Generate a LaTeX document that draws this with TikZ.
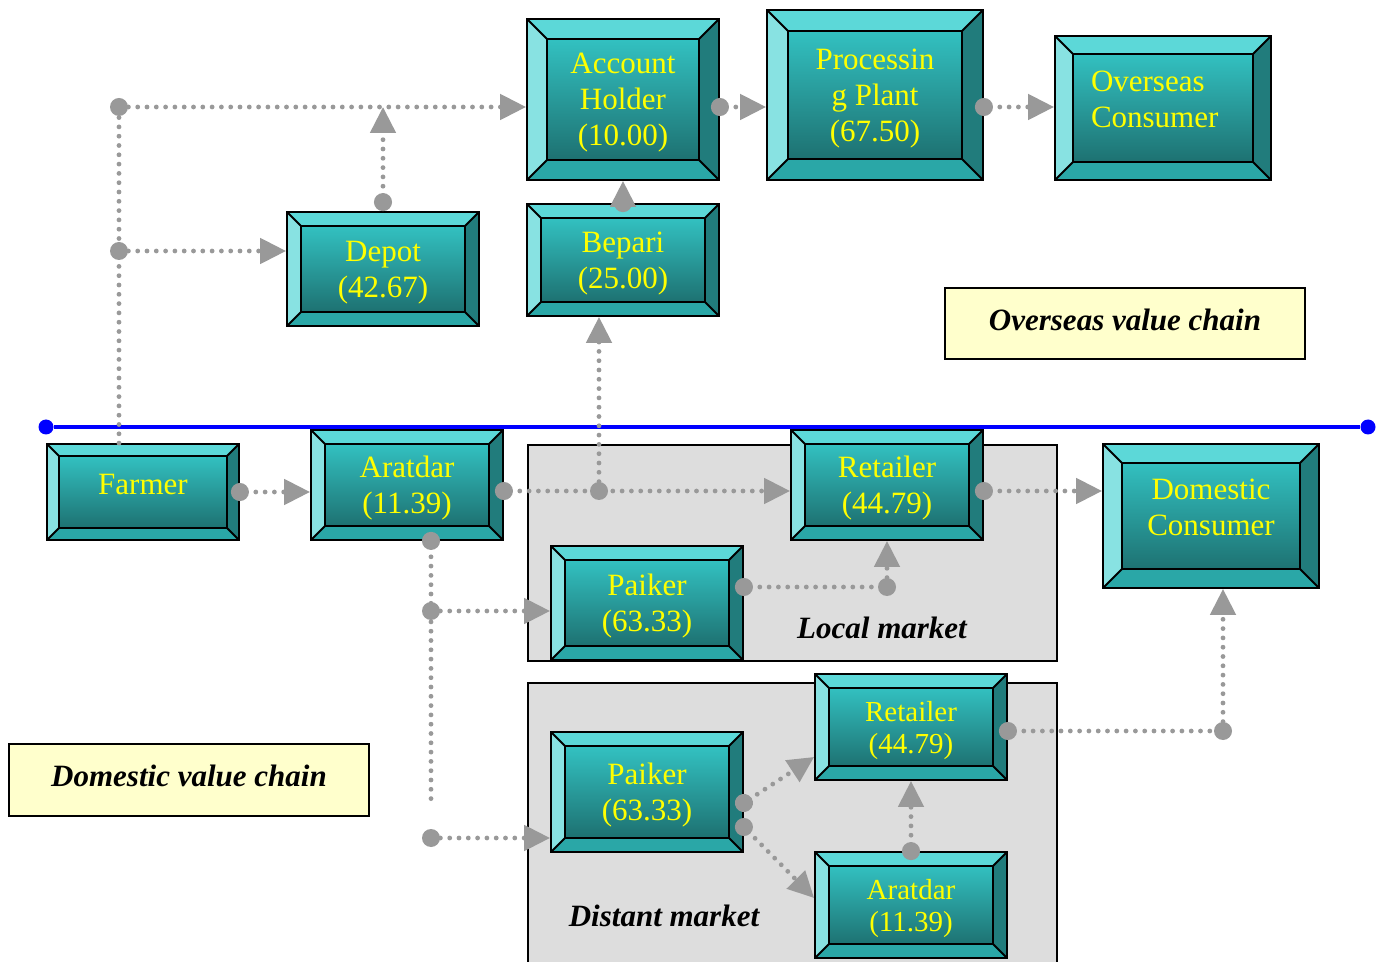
\documentclass[tikz,border=0pt]{standalone}
\usepackage{fontspec}
\setmainfont{Liberation Serif}
\usetikzlibrary{arrows.meta}

\definecolor{bvtop}{HTML}{5CD8D8}
\definecolor{bvleft}{HTML}{88E2E2}
\definecolor{bvright}{HTML}{217C7C}
\definecolor{bvbot}{HTML}{2AA7A7}
\definecolor{innertop}{HTML}{36CECE}
\definecolor{innerbot}{HTML}{1A6464}
\definecolor{stagetext}{HTML}{FFFF00}
\definecolor{flowgray}{HTML}{999999}
\definecolor{panelgray}{HTML}{DDDDDD}
\definecolor{chainfill}{HTML}{FFFFCC}

\newcommand\stagefont{\fontsize{15.5}{18}\selectfont}
\newcommand\smallstage{\fontsize{14.5}{16}\selectfont}

% the four bevel faces of a stage box
\newcommand\bevelfaces{%
  \path (path picture bounding box.north west) coordinate (o1)
        (path picture bounding box.north east) coordinate (o2)
        (path picture bounding box.south east) coordinate (o3)
        (path picture bounding box.south west) coordinate (o4);
  \path (o1) ++(\bevw,-\bevw) coordinate (i1)
        (o2) ++(-\bevw,-\bevw) coordinate (i2)
        (o3) ++(-\bevw,\bevw) coordinate (i3)
        (o4) ++(\bevw,\bevw) coordinate (i4);
  \fill[bvtop] (o1) -- (o2) -- (i2) -- (i1) -- cycle;
  \fill[bvright] (o2) -- (o3) -- (i3) -- (i2) -- cycle;
  \fill[bvbot] (o3) -- (o4) -- (i4) -- (i3) -- cycle;
  \fill[bvleft] (o4) -- (o1) -- (i1) -- (i4) -- cycle;
  \draw[black, line width=0.9pt] (i1) rectangle (i3)
        (o1) -- (i1) (o2) -- (i2) (o3) -- (i3) (o4) -- (i4);
}

\tikzset{
  bev/.store in=\bevw, bev=7pt,
  boxsize/.style 2 args={minimum width=#1*0.5pt, minimum height=#2*0.5pt},
  stage/.style={rectangle, draw=black, line width=0.9pt,
    top color=innertop, bottom color=innerbot, text=stagetext,
    align=center, font=\stagefont, inner sep=0pt, text depth=-1.2pt,
    path picture={\bevelfaces}},
  panel/.style={draw=black, line width=0.8pt, fill=panelgray},
  chain/.style={draw=black, line width=0.9pt, fill=chainfill,
    font=\stagefont\bfseries\itshape, text depth=4pt},
  tag/.style={font=\stagefont\bfseries\itshape, inner sep=0pt},
  bdot/.style={circle, fill=blue, minimum size=7.5pt, inner sep=0pt},
  divider/.style={draw=blue, line width=2.2pt},
  wire/.style={draw=flowgray, line width=2.4pt, line cap=round,
    dash pattern=on 0pt off 4.65pt},
  flow/.style={wire, -{Triangle[length=13pt,width=12.5pt]}},
  srcflow/.style={wire, {Circle[length=9pt]}-{Triangle[length=13pt,width=12.5pt]},
    shorten <=-4.5pt},
  srcwire/.style={wire, {Circle[length=9pt]}-, shorten <=-4.5pt},
  jdot/.style={circle, fill=flowgray, minimum size=9pt, inner sep=0pt}
}

\begin{document}
\begin{tikzpicture}[x=0.5pt,y=-0.5pt]
\clip (0,0) rectangle (1382,962);
\fill[white] (0,0) rectangle (1382,962);

% market panels
\draw[panel] (528,445) rectangle (1057,661);
\draw[panel] (528,683) rectangle (1057,990);

% line between the two chains
\node[bdot] (bl) at (46,427) {};
\node[bdot] (br) at (1368,427) {};
\draw[divider] (bl) -- (br);

% overseas chain
\node[stage, boxsize={192}{161}, bev=10pt, text depth=-4.5pt] (acct) at (623,99.5) {Account\\Holder\\(10.00)};
\node[stage, boxsize={216}{170}, bev=10.5pt] (proc) at (875,95) {Processin\\g Plant\\(67.50)};
\node[stage, boxsize={216}{144}, bev=9pt, align=left, text width=72pt, text depth=27pt] (ovcons) at (1163,108) {Overseas\\Consumer};
\node[stage, boxsize={192}{114}, bev=7pt, text depth=-4pt] (depot) at (383,269) {Depot\\(42.67)};
\node[stage, boxsize={192}{112}, bev=7pt, text depth=-4.5pt] (bepari) at (623,260) {Bepari\\(25.00)};

% domestic chain
\node[stage, boxsize={192}{96}, bev=6pt, text depth=8pt] (farmer) at (143,492) {Farmer};
\node[stage, boxsize={192}{110}, bev=7pt] (aratdar) at (407,485) {Aratdar\\(11.39)};
\node[stage, boxsize={192}{110}, bev=7pt, text depth=-2.5pt] (retl) at (887,485) {Retailer\\(44.79)};
\node[stage, boxsize={216}{144}, bev=9.5pt, text depth=8.5pt] (domcons) at (1211,516) {Domestic\\Consumer};
\node[stage, boxsize={192}{114}, bev=7pt, text depth=-2pt] (paikl) at (647,603) {Paiker\\(63.33)};
\node[stage, boxsize={192}{120}, bev=7pt] (paikd) at (647,792) {Paiker\\(63.33)};
\node[stage, boxsize={192}{106}, bev=7pt, font=\smallstage] (retd) at (911,727) {Retailer\\(44.79)};
\node[stage, boxsize={192}{106}, bev=7pt, font=\smallstage] (aratd) at (911,905) {Aratdar\\(11.39)};

% labels
\node[chain, boxsize={360}{71}] (ovchain) at (1125,323.5) {Overseas value chain};
\node[chain, boxsize={360}{72}] (domchain) at (189,780) {Domestic value chain};
\node[tag] (localmkt) at (882,628) {Local market};
\node[tag] (distmkt) at (664,916) {Distant market};

% farmer to the overseas buyers
\draw[wire] ([xshift=-12pt]farmer.north) -- (119,107);
\node[jdot] (j6) at (119,251) {};
\node[jdot] (j7) at (119,107) {};
\draw[flow] (j6) -- (j6 -| depot.west);
\draw[flow] (j7) -- (j7 -| acct.west);
\draw[srcflow, shorten <=0pt] (depot.north) -- (depot.north |- j7);
\draw[srcflow] (bepari.north) -- (acct.south);
\draw[srcflow] ([yshift=-3.75pt]acct.east) -- ([yshift=-3.75pt]acct.east -| proc.west);
\draw[srcflow] ([yshift=-6pt]proc.east) -- ([yshift=-6pt]proc.east -| ovcons.west);

% local market
\draw[srcflow] (farmer.east) -- (farmer.east -| aratdar.west);
\draw[srcflow] ([yshift=-3pt]aratdar.east) -- ([yshift=-3pt]retl.west);
\node[jdot] (j1) at (599,491) {};
\draw[flow] (j1) -- (j1 |- bepari.south);
\draw[srcflow] ([yshift=-3pt]retl.east) -- ([yshift=-3pt]retl.east -| domcons.west);
\node[jdot] (j2) at (887,587) {};
\draw[srcwire] ([yshift=8pt]paikl.east) -- (j2);
\draw[flow] (j2) -- (retl.south);

% distant market
\coordinate (tail) at (431,800);
\draw[srcwire] ([xshift=12pt]aratdar.south) -- (tail);
\node[jdot] (j3) at (431,611) {};
\draw[flow] (j3) -- (j3 -| paikl.west);
\node[jdot] (j4) at (431,838) {};
\draw[flow] (j4) -- (j4 -| paikd.west);
\draw[srcflow] ([yshift=-5.5pt]paikd.east) -- ([yshift=-15pt]retd.west);
\draw[srcflow] ([yshift=-17.5pt]paikd.east) -- ([yshift=3.5pt]aratd.west);
\draw[srcflow] (aratd.north) -- (retd.south);
\node[jdot] (j5) at (1223,731) {};
\draw[srcwire] ([yshift=-2pt]retd.east) -- (j5);
\draw[flow] (j5) -- (j5 |- domcons.south);
\end{tikzpicture}
\end{document}
